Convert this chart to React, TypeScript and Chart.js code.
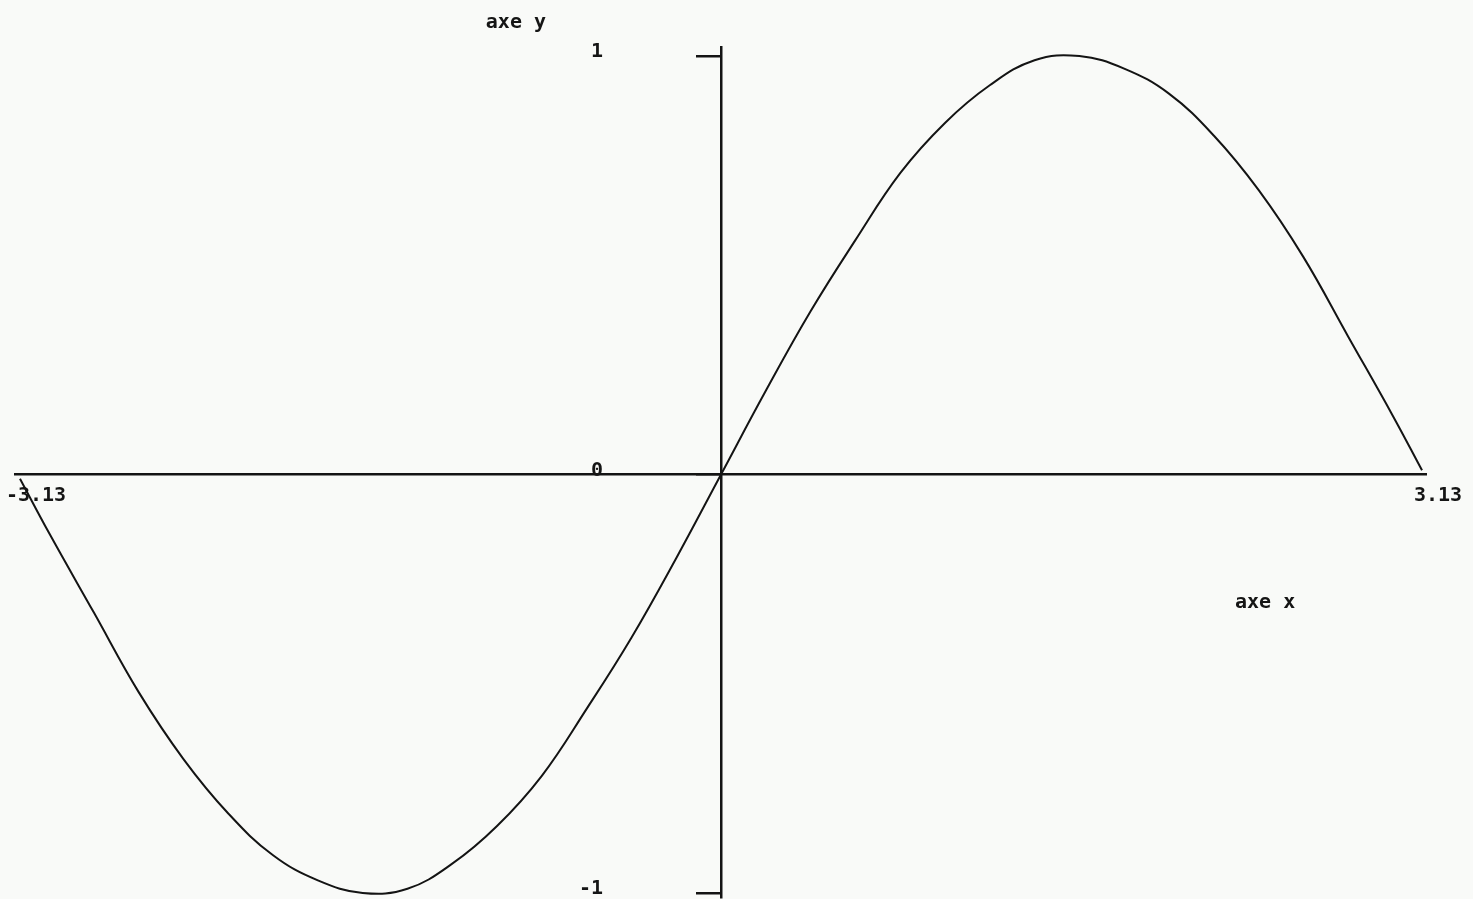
import React, { useEffect, useRef } from "react";
import { Chart, registerables } from "chart.js";

Chart.register(...registerables);

// Curve points
const curveX = [-3.13, -3.0, -2.8, -2.6, -2.4, -2.2, -2.0, -1.8, -1.6, -1.4, -1.2, -1.0, -0.8, -0.6, -0.4, -0.2, 0,
  0.2, 0.4, 0.6, 0.8, 1.0, 1.2, 1.4, 1.6, 1.8, 2.0, 2.2, 2.4, 2.6, 2.8, 3.0, 3.13];
const curveY = [-0.01, -0.14, -0.33, -0.52, -0.68, -0.81, -0.91, -0.97, -1.0, -0.99, -0.93, -0.84, -0.72, -0.56, -0.39, -0.2, 0,
  0.2, 0.39, 0.56, 0.72, 0.84, 0.93, 0.99, 1.0, 0.97, 0.91, 0.81, 0.68, 0.52, 0.33, 0.14, 0.01];

const xTickValues = [-3.13, 3.13];
const xTickLabels = ["-3.13", "3.13"];
const yTickValues = [-1, 0, 1];
const yTickLabels = ["-1", "0", "1"];

const titleTexts = ["axe y", "axe x"];
const titleX = [-1.05, 2.295];
const titleY = [1.079, -0.307];

const FONT_FAMILY = "'DejaVu Sans Mono', monospace";

const axisTitlePlugin = {
  id: "axisTitles",
  afterDraw(chart: any) {
    const { ctx } = chart;
    const xs = chart.scales.x;
    const ys = chart.scales.y;
    ctx.save();
    ctx.fillStyle = "#151515";
    ctx.font = `bold 20px ${FONT_FAMILY}`;
    ctx.textAlign = "left";
    ctx.textBaseline = "middle";
    titleTexts.forEach((t, i) => {
      ctx.fillText(t, xs.getPixelForValue(titleX[i]), ys.getPixelForValue(titleY[i]));
    });
    ctx.restore();
  },
};

export default function App() {
  const canvasRef = useRef<HTMLCanvasElement | null>(null);

  useEffect(() => {
    if (!canvasRef.current) return;
    const zeroPad = (scale: any) => {
      scale.paddingLeft = 0;
      scale.paddingRight = 0;
      scale.paddingTop = 0;
      scale.paddingBottom = 0;
    };
    const chart = new Chart(canvasRef.current, {
      type: "scatter",
      data: {
        datasets: [
          {
            data: curveX.map((x, i) => ({ x, y: curveY[i] })),
            showLine: true,
            borderColor: "#141414",
            borderWidth: 2,
            pointRadius: 0,
            tension: 0.4,
            fill: false,
          } as any,
        ],
      },
      options: {
        animation: false,
        responsive: true,
        maintainAspectRatio: false,
        layout: { padding: { left: 15.5, right: 46.5, top: 47, bottom: 2 } },
        plugins: { legend: { display: false }, tooltip: { enabled: false } },
        scales: {
          x: {
            type: "linear",
            position: { y: 0 } as any,
            min: -3.15,
            max: 3.15,
            afterBuildTicks: (scale: any) => {
              scale.ticks = xTickValues.map((v) => ({ value: v }));
            },
            afterFit: zeroPad,
            grid: { display: false, drawTicks: false },
            border: { display: true, color: "#141414", width: 2.5 },
            ticks: {
              color: "#151515",
              font: { family: FONT_FAMILY, size: 20, weight: "bold" },
              padding: 9,
              labelOffset: 16,
              maxRotation: 0,
              autoSkip: false,
              callback: (_v: any, i: number) => xTickLabels[i],
            },
          },
          y: {
            type: "linear",
            position: "center",
            min: -1.0096,
            max: 1.0215,
            afterBuildTicks: (scale: any) => {
              scale.ticks = yTickValues.map((v) => ({ value: v }));
            },
            afterFit: zeroPad,
            grid: {
              display: true,
              drawOnChartArea: false,
              drawTicks: true,
              tickLength: 24,
              color: "#141414",
              lineWidth: 2.5,
            },
            border: { display: true, color: "#141414", width: 2.5 },
            ticks: {
              color: "#151515",
              font: { family: FONT_FAMILY, size: 20, weight: "bold" },
              padding: 94,
              labelOffset: -4,
              autoSkip: false,
              callback: (_v: any, i: number) => yTickLabels[i],
            },
          },
        },
      },
      plugins: [axisTitlePlugin],
    });
    return () => chart.destroy();
  }, []);

  return (
    <div
      style={{
        position: "fixed",
        left: 0,
        top: 0,
        width: 1473,
        height: 899,
        background: "#f9faf8",
      }}
    >
      <canvas ref={canvasRef} />
    </div>
  );
}
